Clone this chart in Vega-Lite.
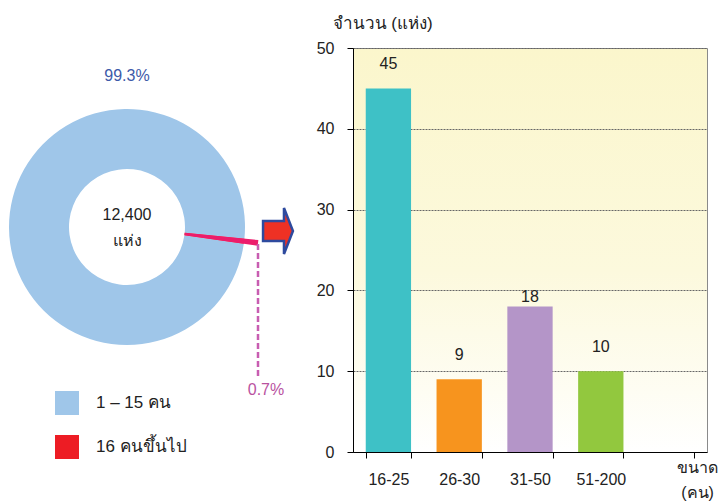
{
  "$schema": "https://vega.github.io/schema/vega-lite/v6.json",
  "autosize": {"type": "pad"},
  "padding": {"left": 0, "top": 13, "right": 0, "bottom": 0},
  "background": "white",
  "spacing": 16,
  "resolve": {"scale": {"color": "independent"}, "legend": {"color": "independent"}},
  "config": {
    "font": "Liberation Sans",
    "text": {"font": "Liberation Sans"},
    "axis": {"labelFont": "Liberation Sans", "titleFont": "Liberation Sans"},
    "legend": {"labelFont": "Liberation Sans"}
  },
  "hconcat": [
    {
      "width": 252,
      "height": 358,
      "view": {"stroke": "transparent", "fill": null},
      "data": {"values": [
        {"group": "1 – 15 คน", "share": 0.993},
        {"group": "16 คนขึ้นไป", "share": 0.007}
      ]},
      "layer": [
        {
          "mark": {"type": "arc", "radius": 118, "radius2": 58},
          "encoding": {
            "theta": {"field": "share", "type": "quantitative", "stack": true,
              "scale": {"domain": [0, 1], "range": [1.67, 7.953]}},
            "order": {"field": "share", "sort": "ascending"},
            "color": {"field": "group", "type": "nominal",
              "scale": {"domain": ["1 – 15 คน", "16 คนขึ้นไป"], "range": ["#9FC6E9", "#ED1C24"]},
              "legend": {
                "orient": "none", "legendX": 54, "legendY": 343, "title": null,
                "symbolType": "square", "symbolSize": 576, "symbolStrokeWidth": 0,
                "labelFontSize": 17, "labelColor": "#222", "labelOffset": 17,
                "rowPadding": 20, "padding": 0, "labelLimit": 300
              }
            }
          }
        },
        {
          "transform": [{"filter": "datum.share < 0.5"}],
          "mark": {"type": "arc", "radius": 132, "radius2": 58, "color": "#EC1C6C"},
          "encoding": {
            "theta": {"field": "share", "type": "quantitative", "stack": true},
            "order": {"field": "share", "sort": "ascending"}
          }
        },
        {
          "transform": [{"filter": "datum.share > 0.5"}],
          "mark": {"type": "text", "dy": -151, "fontSize": 16, "color": "#3D5AA9"},
          "encoding": {"text": {"field": "share", "type": "quantitative", "format": ".1%"}}
        },
        {
          "transform": [{"filter": "datum.share < 0.5"}],
          "mark": {"type": "text", "dx": 139, "dy": 163, "fontSize": 16, "color": "#B9529F"},
          "encoding": {"text": {"field": "share", "type": "quantitative", "format": ".1%"}}
        },
        {
          "data": {"values": [{"total": "12,400", "unit": "แห่ง"}]},
          "mark": {"type": "text", "dy": -12, "fontSize": 16, "color": "#222"},
          "encoding": {"text": {"field": "total"}}
        },
        {
          "data": {"values": [{"total": "12,400", "unit": "แห่ง"}]},
          "mark": {"type": "text", "dy": 14, "fontSize": 16, "color": "#222"},
          "encoding": {"text": {"field": "unit"}}
        },
        {
          "data": {"values": [{"leader": "0.7%"}]},
          "mark": {"type": "rule", "strokeDash": [6, 3], "strokeWidth": 2.5, "color": "#C85DB1"},
          "encoding": {
            "x": {"value": 257},
            "y": {"value": 196},
            "y2": {"value": 331}
          }
        },
        {
          "data": {"values": [{"arrow": "to detail"}]},
          "mark": {"type": "point", "filled": true,
            "shape": "M-0.65,-0.43 L0.26,-0.43 L0.26,-1 L0.65,0 L0.26,1 L0.26,0.43 L-0.65,0.43 Z",
            "size": 2116, "x": 277, "y": 183,
            "fill": "#EE3124", "stroke": "#2E4A9E", "strokeWidth": 2.5, "opacity": 1},
          "encoding": {}
        }
      ]
    },
    {
      "width": 354,
      "height": 404,
      "view": {
        "stroke": "#8a8a8a",
        "fill": {"gradient": "linear", "x1": 0, "y1": 0, "x2": 0, "y2": 1,
          "stops": [
            {"offset": 0, "color": "#FBF6CC"},
            {"offset": 0.55, "color": "#FCF9DD"},
            {"offset": 0.85, "color": "#FEFDF3"},
            {"offset": 1, "color": "#FFFFFF"}
          ]}
      },
      "data": {"values": [
        {"size": "16-25", "count": 45},
        {"size": "26-30", "count": 9},
        {"size": "31-50", "count": 18},
        {"size": "51-200", "count": 10}
      ]},
      "encoding": {
        "x": {"field": "size", "type": "nominal",
          "scale": {"domain": ["16-25", "26-30", "31-50", "51-200", ""], "paddingInner": 0.36, "paddingOuter": 0.18},
          "axis": {
            "labelAngle": 0, "tickBand": "extent", "tickSize": 6, "tickColor": "#000",
            "domainColor": "#000", "labelFontSize": 16, "labelColor": "#222", "labelPadding": 13,
            "title": ["ขนาด", "(คน)"], "titleFontSize": 16, "titleFontWeight": "normal", "titleColor": "#222",
            "titleX": 344, "titleY": 7, "titleBaseline": "top", "titleAlign": "center", "titleLineHeight": 25
          }
        },
        "y": {"field": "count", "type": "quantitative",
          "scale": {"domain": [0, 50]},
          "axis": {
            "values": [0, 10, 20, 30, 40, 50], "tickSize": 6, "tickColor": "#000", "domainColor": "#000",
            "labelFontSize": 16, "labelColor": "#222", "labelPadding": 13,
            "grid": true, "gridColor": "#666", "gridDash": [2, 1], "gridWidth": 1,
            "title": "จำนวน (แห่ง)", "titleAngle": 0, "titleAlign": "left", "titleBaseline": "alphabetic",
            "titleX": -21, "titleY": -20, "titleFontSize": 17, "titleFontWeight": "normal", "titleColor": "#222"
          }
        }
      },
      "layer": [
        {
          "mark": {"type": "bar"},
          "encoding": {
            "color": {"field": "size", "type": "nominal",
              "scale": {"domain": ["16-25", "26-30", "31-50", "51-200"], "range": ["#3EC1C6", "#F7941E", "#B495C8", "#92C83E"]},
              "legend": null}
          }
        },
        {
          "transform": [{"filter": "datum.count != 18"}],
          "mark": {"type": "text", "dy": -24, "fontSize": 16, "color": "#222"},
          "encoding": {"text": {"field": "count", "type": "quantitative"}}
        },
        {
          "transform": [{"filter": "datum.count == 18"}],
          "mark": {"type": "text", "dy": -10, "fontSize": 16, "color": "#222"},
          "encoding": {"text": {"field": "count", "type": "quantitative"}}
        }
      ]
    }
  ]
}
